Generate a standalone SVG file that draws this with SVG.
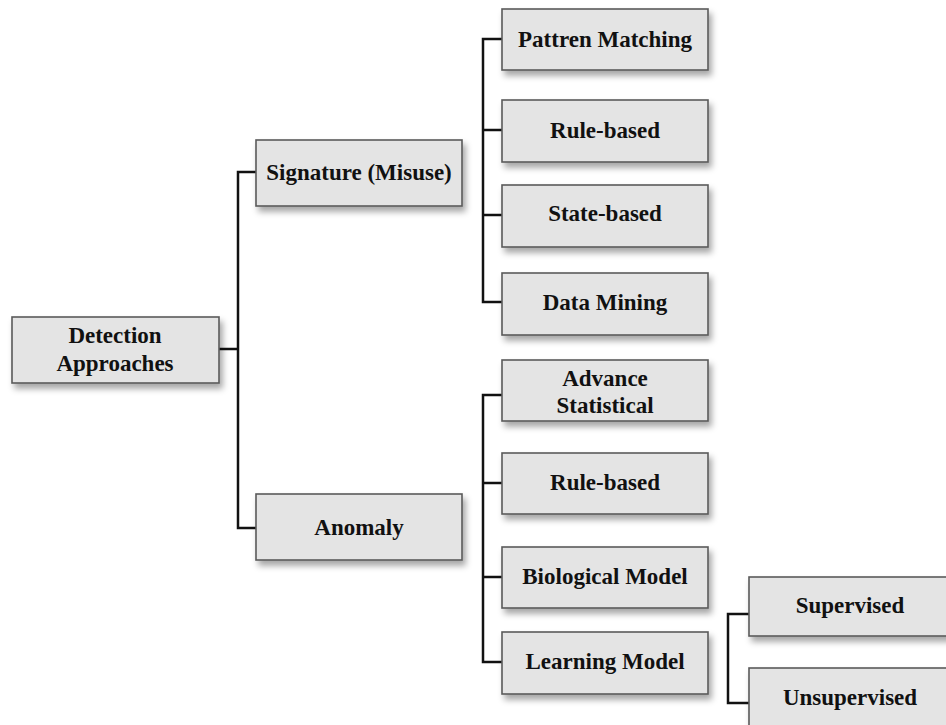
<svg xmlns="http://www.w3.org/2000/svg" width="946" height="725" viewBox="0 0 946 725">
  <defs>
    <filter id="shadow" x="-10%" y="-20%" width="130%" height="160%">
      <feDropShadow dx="3" dy="5" stdDeviation="3" flood-color="#000" flood-opacity="0.35"/>
    </filter>
  </defs>
  <style>
    .box rect { fill: #e4e4e4; stroke: #5a5a5a; stroke-width: 1.6; filter: url(#shadow); }
    .box text { font-family: "Liberation Serif", "Times New Roman", serif; font-weight: bold; font-size: 23px; fill: #111; text-anchor: middle; }
    .links path { fill: none; stroke: #111; stroke-width: 2.5; }
  </style>
  <rect width="946" height="725" fill="#fff"/>

  <g class="links">
    <!-- root to level 1 -->
    <path d="M219 349 H238 M256 172 H238 V528 H256"/>
    <!-- signature children -->
    <path d="M502 39 H483 V302 H502 M483 130 H502 M483 215 H502"/>
    <!-- anomaly children -->
    <path d="M502 395 H483 V662 H502 M483 483 H502 M483 577 H502"/>
    <!-- learning model children -->
    <path d="M749 614 H728 V703 H749"/>
  </g>

  <g id="detection" class="box">
    <rect x="12" y="317" width="207" height="66"/>
    <text x="115" y="343">Detection</text>
    <text x="115" y="371">Approaches</text>
  </g>
  <g id="signature" class="box">
    <rect x="256" y="140" width="206" height="66"/>
    <text x="359" y="180">Signature (Misuse)</text>
  </g>
  <g id="anomaly" class="box">
    <rect x="256" y="494" width="206" height="66"/>
    <text x="359" y="535">Anomaly</text>
  </g>

  <g id="pattern-matching" class="box">
    <rect x="502" y="9" width="206" height="61"/>
    <text x="605" y="47">Pattren Matching</text>
  </g>
  <g id="rule-based-sig" class="box">
    <rect x="502" y="100" width="206" height="62"/>
    <text x="605" y="138">Rule-based</text>
  </g>
  <g id="state-based" class="box">
    <rect x="502" y="185" width="206" height="62"/>
    <text x="605" y="221">State-based</text>
  </g>
  <g id="data-mining" class="box">
    <rect x="502" y="273" width="206" height="62"/>
    <text x="605" y="310">Data Mining</text>
  </g>

  <g id="advance-statistical" class="box">
    <rect x="502" y="360" width="206" height="61"/>
    <text x="605" y="386">Advance</text>
    <text x="605" y="413">Statistical</text>
  </g>
  <g id="rule-based-anom" class="box">
    <rect x="502" y="453" width="206" height="61"/>
    <text x="605" y="490">Rule-based</text>
  </g>
  <g id="biological-model" class="box">
    <rect x="502" y="547" width="206" height="61"/>
    <text x="605" y="584">Biological Model</text>
  </g>
  <g id="learning-model" class="box">
    <rect x="502" y="632" width="206" height="62"/>
    <text x="605" y="669">Learning Model</text>
  </g>

  <g id="supervised" class="box">
    <rect x="749" y="577" width="204" height="59"/>
    <text x="850" y="613">Supervised</text>
  </g>
  <g id="unsupervised" class="box">
    <rect x="749" y="668" width="204" height="70"/>
    <text x="850" y="705">Unsupervised</text>
  </g>
</svg>
